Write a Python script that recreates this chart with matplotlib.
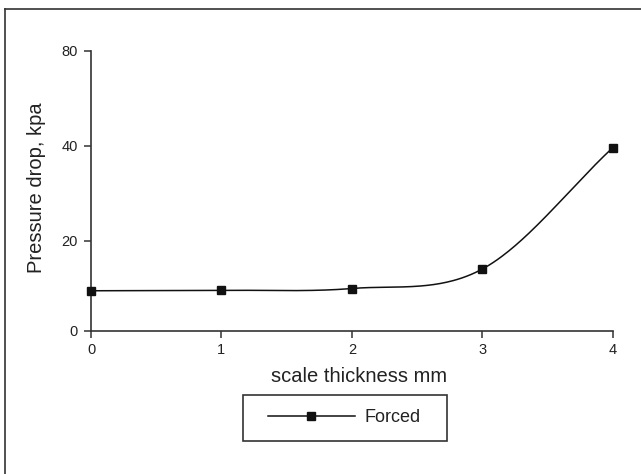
import numpy as np
import matplotlib
matplotlib.use("Agg")
import matplotlib.pyplot as plt
from matplotlib.patches import Rectangle
from matplotlib.lines import Line2D

# ---- data ----
thickness = [0, 1, 2, 3, 4]
pressure_drop = [8.9, 9.0, 9.4, 13.7, 39.4]
series_name = "Forced"
x_ticks = [0, 1, 2, 3, 4]
y_ticks = [0, 20, 40, 80]
x_label = "scale thickness mm"
y_label = "Pressure drop, kpa"

plt.rcParams['font.family'] = ['Liberation Sans', 'DejaVu Sans']
INK = '#222222'

# axis: linear 0-20, logarithmic above 20
def fwd(y):
    y = np.asarray(y, dtype=float)
    return np.where(y <= 20, y / 20.0, 1 + 1.05 * np.log2(np.maximum(y, 1e-9) / 20.0))

def inv(t):
    t = np.asarray(t, dtype=float)
    return np.where(t <= 1, 20.0 * t, 20.0 * 2 ** ((t - 1) / 1.05))

def smooth_line(x, y, n=60):
    """Catmull-Rom style smoothing through the points (in the axis' display space)."""
    x = np.asarray(x, float); p = fwd(y)
    N = len(x)
    m = np.zeros(N)
    m[0] = (p[1] - p[0]) / (x[1] - x[0])
    m[-1] = (p[-1] - p[-2]) / (x[-1] - x[-2])
    for i in range(1, N - 1):
        m[i] = (p[i + 1] - p[i - 1]) / (x[i + 1] - x[i - 1])
    xs_all, ps_all = [], []
    for i in range(N - 1):
        h = x[i + 1] - x[i]
        s = np.linspace(0, 1, n)
        h00 = 2 * s**3 - 3 * s**2 + 1
        h10 = s**3 - 2 * s**2 + s
        h01 = -2 * s**3 + 3 * s**2
        h11 = s**3 - s**2
        ps = h00 * p[i] + h10 * h * m[i] + h01 * p[i + 1] + h11 * h * m[i + 1]
        xs_all.append(x[i] + s * h); ps_all.append(ps)
    return np.concatenate(xs_all), inv(np.concatenate(ps_all))

W, H = 641, 474
fig = plt.figure(figsize=(W / 100, H / 100), dpi=100)
ax = fig.add_axes([91 / W, 143 / H, 521.7 / W, 280.3 / H])
ax.set_yscale('function', functions=(fwd, inv))

xs, ys = smooth_line(thickness, pressure_drop)
ax.plot(xs, ys, color='#111111', lw=1.1, zorder=2)
ax.plot(thickness, pressure_drop, ls='none', marker='s', ms=5.8,
        color='#111111', zorder=3, clip_on=False)

ax.set_xlim(0, 4)
ax.set_ylim(0, 80)
ax.set_xticks(x_ticks)
ax.set_yticks(y_ticks)
ax.set_xticklabels([str(v) for v in x_ticks])
ax.set_yticklabels([str(v) for v in y_ticks])
ax.yaxis.set_minor_locator(matplotlib.ticker.NullLocator())
ax.xaxis.set_minor_locator(matplotlib.ticker.NullLocator())

for s in ['top', 'right']:
    ax.spines[s].set_visible(False)
for s in ['left', 'bottom']:
    ax.spines[s].set_linewidth(1.2)
    ax.spines[s].set_color('#333333')
ax.tick_params(axis='both', direction='out', length=5, width=1.1, color='#333333',
               labelsize=10.5, labelcolor=INK)
ax.tick_params(axis='x', pad=4)
ax.tick_params(axis='y', pad=4.5)

ax.set_xlabel(x_label, fontsize=14.5, color=INK, va='center')
ax.xaxis.set_label_coords((359.4 - 91) / 521.7, (331 - 376) / 280.3)
ax.set_ylabel(y_label, fontsize=14.5, color=INK, va='center')
ax.yaxis.set_label_coords((36 - 91) / 521.7, (331 - 188) / 280.3)

# legend
handle = Line2D([], [], color='#111111', lw=1.1, marker='s', ms=5.8)
leg = fig.legend([handle], [series_name], loc='center left',
                 bbox_to_anchor=(268 / W, (H - 418) / H), bbox_transform=fig.transFigure,
                 frameon=False, fontsize=13, handlelength=4.8, handletextpad=0.55,
                 borderpad=0, borderaxespad=0)
for t in leg.get_texts():
    t.set_color(INK)
fig.patches.append(Rectangle((242.7 / W, (H - 441) / H), 204 / W, 46 / H,
                             transform=fig.transFigure, fill=False, lw=1.2,
                             edgecolor='#333333'))

# outer frame (top and left edges visible)
fig.lines.append(Line2D([5 / W, 5 / W], [0, (H - 9) / H], transform=fig.transFigure,
                        color='#333333', lw=1.2))
fig.lines.append(Line2D([5 / W, 1], [(H - 9) / H, (H - 9) / H], transform=fig.transFigure,
                        color='#333333', lw=1.2))

fig.savefig("out.png", dpi=100)
